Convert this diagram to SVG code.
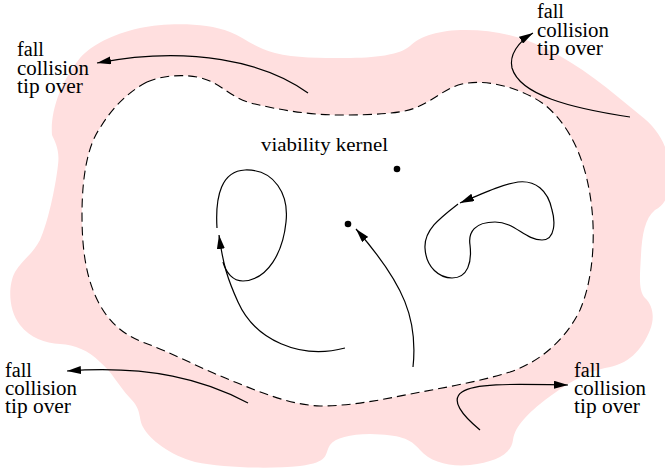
<svg xmlns="http://www.w3.org/2000/svg" width="665" height="473" viewBox="0 0 665 473">
<style>
.lbl{font-family:"Liberation Serif","Times New Roman",Times,serif;font-size:20.5px;fill:#000}
.kl{font-family:"Liberation Serif","Times New Roman",Times,serif;font-size:19px;fill:#000}
.traj{fill:none;stroke:#000;stroke-width:1.2}
.arr{marker-end:url(#ah)}
</style>
<defs>
<marker id="ah" viewBox="0 0 14 8" refX="14" refY="4" markerWidth="14" markerHeight="8" orient="auto" markerUnits="userSpaceOnUse">
<path d="M0,0 L14,4 L0,8 Z" fill="#000"/>
</marker>
</defs>
<g id="unsafe-region">
<path fill="#ffdfdf" d="M52,135 C50,110 62,80 80,58 C92,45 110,35 140,28 C165,23 205,22 230,32 C245,38 255,48 275,53 C295,58 320,58 345,58 C375,58 400,55 410,46 C420,36 440,30 465,30 C495,30 520,36 545,48 C580,65 610,90 640,115 C660,130 670,150 670,175 C670,195 665,205 655,210 C645,218 642,235 641,255 C640,275 638,290 645,298 C653,305 655,318 650,330 C642,350 628,365 605,368 C585,372 565,385 545,400 C530,412 515,425 513,440 C511,455 495,462 470,465 C450,467 430,462 420,450 C410,438 400,435 370,434 C350,434 335,438 330,445 C324,455 330,462 300,466 C270,469 225,468 195,462 C170,455 150,440 143,427 C138,417 142,410 130,398 C118,385 112,372 100,362 C88,350 75,345 60,344 C45,343 30,338 20,325 C8,310 8,285 15,272 C22,260 32,255 40,240 C48,222 55,190 58,165 C60,150 55,142 52,135 Z"/>
</g>
<g id="viability-kernel">
<path fill="#fff" stroke="#000" stroke-width="1.1" stroke-dasharray="9,5" d="M147,82 C165,74 195,73 212,82 C225,88 235,100 255,104 C280,110 310,115 340,115 C370,115 400,114 415,108 C435,100 445,88 462,84 C490,78 525,90 545,105 C575,130 588,170 592,210 C595,240 593,280 580,310 C568,335 545,360 510,372 C475,383 430,390 395,397 C370,402 345,406 320,406 C290,405 260,392 230,380 C200,368 170,352 145,343 C120,334 105,318 95,295 C85,272 82,245 82,215 C82,175 88,145 100,128 C112,108 128,92 147,82 Z"/>
<text class="kl" font-family="Liberation Serif, serif" x="261" y="151" textLength="127" lengthAdjust="spacingAndGlyphs">viability kernel</text>
</g>
<g id="equilibria">
<circle cx="397" cy="169" r="3.3" fill="#000"/>
<circle cx="348" cy="224" r="3.3" fill="#000"/>
</g>
<g id="label-top-left">
<text class="lbl" x="17" y="56" textLength="27" lengthAdjust="spacingAndGlyphs">fall</text>
<text class="lbl" x="17" y="75" textLength="72" lengthAdjust="spacingAndGlyphs">collision</text>
<text class="lbl" x="17" y="93" textLength="66" lengthAdjust="spacingAndGlyphs">tip over</text>
</g>
<g id="label-top-right">
<text class="lbl" x="537" y="18" textLength="27" lengthAdjust="spacingAndGlyphs">fall</text>
<text class="lbl" x="537" y="37" textLength="72" lengthAdjust="spacingAndGlyphs">collision</text>
<text class="lbl" x="537" y="55" textLength="66" lengthAdjust="spacingAndGlyphs">tip over</text>
</g>
<g id="label-bottom-left">
<text class="lbl" x="5" y="377" textLength="27" lengthAdjust="spacingAndGlyphs">fall</text>
<text class="lbl" x="5" y="395" textLength="72" lengthAdjust="spacingAndGlyphs">collision</text>
<text class="lbl" x="5" y="413" textLength="66" lengthAdjust="spacingAndGlyphs">tip over</text>
</g>
<g id="label-bottom-right">
<text class="lbl" x="574" y="377" textLength="27" lengthAdjust="spacingAndGlyphs">fall</text>
<text class="lbl" x="574" y="395" textLength="72" lengthAdjust="spacingAndGlyphs">collision</text>
<text class="lbl" x="574" y="413" textLength="66" lengthAdjust="spacingAndGlyphs">tip over</text>
</g>
<g id="connectors">
<path class="traj arr" d="M308,93 C265,62 190,45 97,63"/>
<path class="traj arr" d="M630,117 C570,108 520,95 512,68 C509,55 518,42 533,33"/>
<path class="traj arr" d="M248,403 C205,380 150,365 67,371"/>
<path class="traj arr" d="M480,430 C462,415 450,400 462,392 C475,383 510,384 568,385"/>
<path class="traj arr" d="M345,348 C300,360 255,340 238,302 C228,280 223,265 219,235"/>
<path class="traj" d="M217,228 C215,195 222,171 245,170 C275,169 289,195 286,222 C283,252 268,280 243,281 C233,281 226,273 223,262"/>
<path class="traj arr" d="M413,367 C418,320 405,285 356,229"/>
<path class="traj arr" d="M458,204 C440,218 424,230 425,248 C426,268 440,278 452,278 C468,278 472,262 470,245 C468,232 475,222 495,222 C515,222 525,240 542,240 C556,240 555,220 552,210 C548,190 535,180 518,182 C505,184 490,190 460,203"/>
</g>
</svg>
